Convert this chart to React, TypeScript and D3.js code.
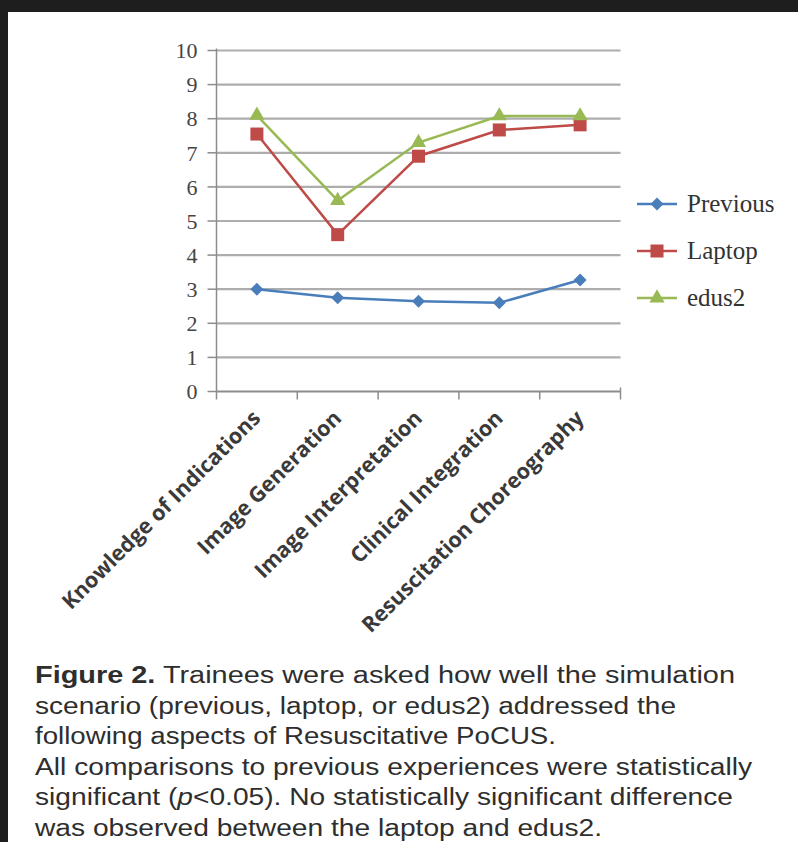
import React from "react";
import * as d3 from "d3";

const categories = [
  "Knowledge of Indications",
  "Image Generation",
  "Image Interpretation",
  "Clinical Integration",
  "Resuscitation Choreography",
];
const previousValues = [3.0, 2.75, 2.65, 2.6, 3.27];
const laptopValues = [7.55, 4.6, 6.9, 7.67, 7.82];
const edus2Values = [8.1, 5.6, 7.3, 8.08, 8.08];
const yTicks = [0, 1, 2, 3, 4, 5, 6, 7, 8, 9, 10];
const seriesNames = ["Previous", "Laptop", "edus2"];
const seriesColors = ["#4a7ebb", "#be4b48", "#98b954"];
const captionLines = [
  "Trainees were asked how well the simulation",
  "scenario (previous, laptop, or edus2) addressed the",
  "following aspects of Resuscitative PoCUS.",
  "All comparisons to previous experiences were statistically",
  "significant (p<0.05). No statistically significant difference",
  "was observed between the laptop and edus2.",
];
// layout: rendered width of each caption line in the reference
const captionWidths = [700, 641, 521, 717, 698, 567];

export default function App() {
  const W = 798, H = 842;
  const left = 216.5, right = 620.5, top = 50.5, bottom = 391.5;
  const x = d3.scaleBand<string>().domain(categories).range([left, right]);
  const y = d3.scaleLinear().domain([0, 10]).range([bottom, top]);
  const series = [previousValues, laptopValues, edus2Values];
  const line = d3
    .line<number>()
    .x((_, i) => (x(categories[i]) as number) + x.bandwidth() / 2)
    .y((d) => y(d));

  const marker = (k: number, cx: number, cy: number, key: string) => {
    const c = seriesColors[k];
    if (k === 0) {
      const s = 6.5;
      return (
        <path key={key} d={`M${cx},${cy - s}L${cx + s},${cy}L${cx},${cy + s}L${cx - s},${cy}Z`} fill={c} />
      );
    }
    if (k === 1) {
      return <rect key={key} x={cx - 6.5} y={cy - 6.5} width={13} height={13} fill={c} />;
    }
    const sym = d3.symbol().type(d3.symbolTriangle).size(100)();
    return <path key={key} d={sym as string} transform={`translate(${cx},${cy})`} fill={c} />;
  };

  const boundaries = [left, ...categories.map((c) => (x(c) as number) + x.bandwidth())];
  const capFont = "Liberation Sans, Arial, sans-serif";

  return (
    <svg
      width={W}
      height={H}
      style={{ position: "absolute", left: 0, top: 0 }}
      xmlns="http://www.w3.org/2000/svg"
    >
      <rect x={0} y={0} width={W} height={H} fill="#1e1e1e" />
      <rect x={8} y={12} width={W - 8} height={H - 12} fill="#ffffff" />

      {/* gridlines */}
      {yTicks.map((t) =>
        t > 0 ? (
          <line key={"g" + t} x1={left} x2={right} y1={y(t)} y2={y(t)} stroke="#adadad" strokeWidth={2.2} />
        ) : null
      )}
      {/* y axis */}
      <line x1={left} x2={left} y1={top - 2} y2={bottom} stroke="#8c8c8c" strokeWidth={1.5} />
      {yTicks.map((t) => (
        <g key={"t" + t}>
          <line x1={left - 9} x2={left} y1={y(t)} y2={y(t)} stroke="#8c8c8c" strokeWidth={1.5} />
          <text
            x={left - 19}
            y={y(t)}
            dy="0.35em"
            textAnchor="end"
            fontFamily="Liberation Serif, serif"
            fontSize={22}
            fill="#444"
          >
            {t}
          </text>
        </g>
      ))}
      {/* x axis */}
      <line x1={left} x2={right} y1={bottom} y2={bottom} stroke="#8c8c8c" strokeWidth={2} />
      {boundaries.map((bx, i) => (
        <line key={"xb" + i} x1={bx} x2={bx} y1={i === boundaries.length - 1 ? bottom - 4 : bottom} y2={bottom + 8} stroke="#8c8c8c" strokeWidth={1.5} />
      ))}
      {categories.map((c) => {
        const cx = (x(c) as number) + x.bandwidth() / 2;
        return (
          <text
            key={c}
            transform={`translate(${cx + 5},${bottom + 28}) rotate(-45)`}
            textAnchor="end"
            fontFamily="Open Sans, sans-serif"
            fontWeight="bold"
            fontSize={21.5}
            fill="#3a3a3a"
          >
            {c}
          </text>
        );
      })}

      {/* series */}
      {series.map((vals, k) => (
        <g key={"s" + k}>
          <path d={line(vals) as string} fill="none" stroke={seriesColors[k]} strokeWidth={2.5} />
          {vals.map((v, i) =>
            marker(k, (x(categories[i]) as number) + x.bandwidth() / 2, y(v), `m${k}-${i}`)
          )}
        </g>
      ))}

      {/* legend */}
      {seriesNames.map((n, k) => {
        const ly = 204 + k * 47;
        return (
          <g key={n}>
            <line x1={637} x2={677} y1={ly} y2={ly} stroke={seriesColors[k]} strokeWidth={2.5} />
            {marker(k, 657, ly, "lm" + k)}
            <text x={687} y={ly} dy="0.33em" fontFamily="Liberation Serif, serif" fontSize={25} fill="#333">
              {n}
            </text>
          </g>
        );
      })}

      {/* caption */}
      {captionLines.map((l, i) => {
        const by = 683 + i * 30.6;
        const common = {
          x: 35,
          y: by,
          fontFamily: capFont,
          fontSize: 23.5,
          fill: "#2e2e2e",
          textLength: captionWidths[i],
          lengthAdjust: "spacingAndGlyphs" as const,
        };
        if (i === 0) {
          return (
            <text key={i} {...common}>
              <tspan fontWeight="bold">Figure 2.</tspan> {l}
            </text>
          );
        }
        if (i === 4) {
          return (
            <text key={i} {...common}>
              significant (<tspan fontStyle="italic">p</tspan>{"<0.05). No statistically significant difference"}
            </text>
          );
        }
        return (
          <text key={i} {...common}>
            {l}
          </text>
        );
      })}
    </svg>
  );
}
